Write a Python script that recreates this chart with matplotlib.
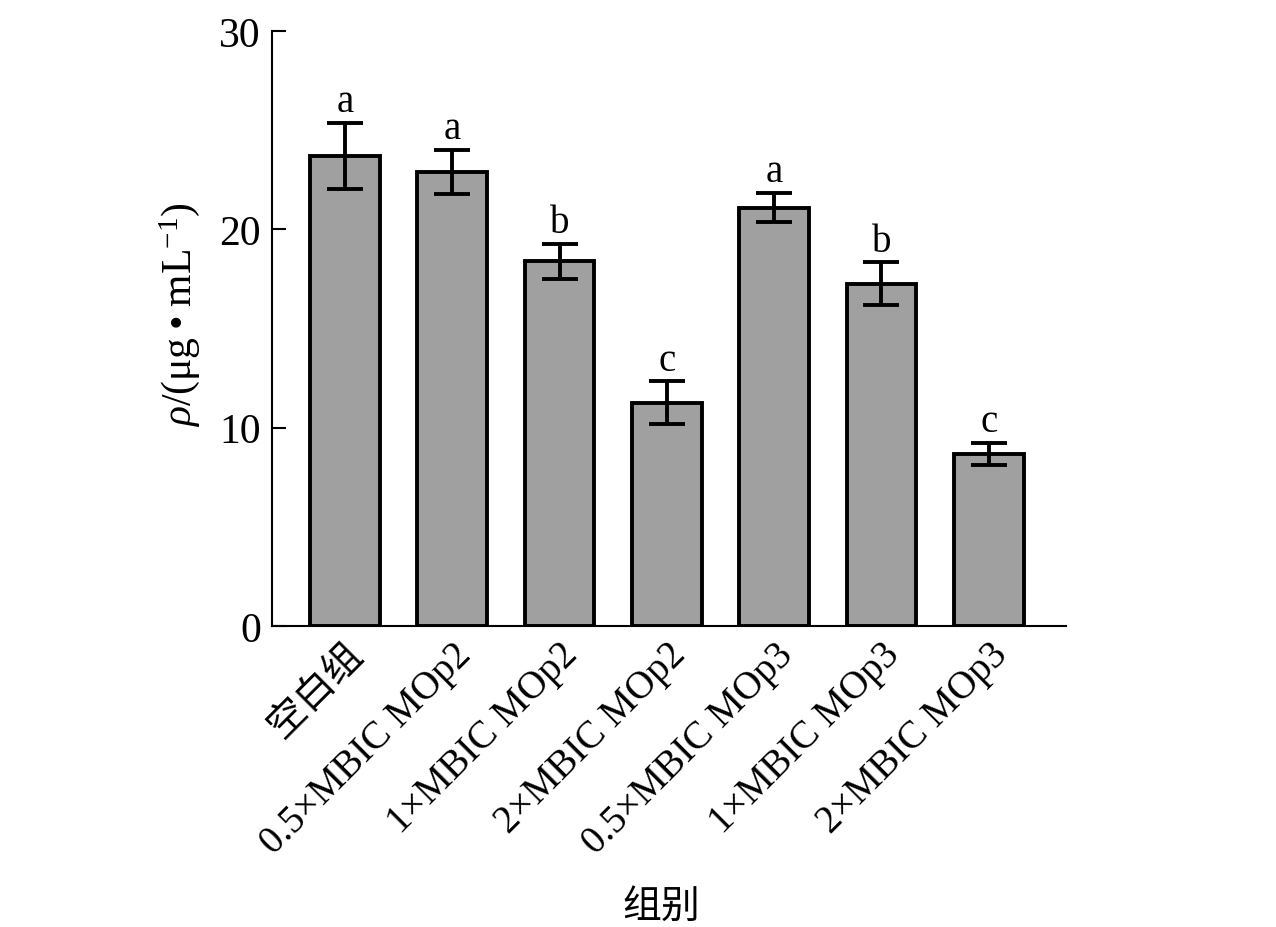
import matplotlib
matplotlib.use("Agg")
import matplotlib.pyplot as plt
import numpy as np

categories = ["空白组", "0.5×MBIC MOp2", "1×MBIC MOp2", "2×MBIC MOp2",
              "0.5×MBIC MOp3", "1×MBIC MOp3", "2×MBIC MOp3"]
means = [23.7, 22.9, 18.4, 11.25, 21.1, 17.25, 8.67]
errors = [1.68, 1.1, 0.88, 1.08, 0.72, 1.08, 0.57]
letters = ["a", "a", "b", "c", "a", "b", "c"]
yticks = [0, 10, 20, 30]

plt.rcParams['font.family'] = ['Liberation Serif', 'Noto Sans CJK SC']
plt.rcParams['mathtext.fontset'] = 'custom'
plt.rcParams['mathtext.rm'] = 'Liberation Serif'
plt.rcParams['mathtext.it'] = 'Liberation Serif:italic'

fig = plt.figure(figsize=(12.76, 9.28), dpi=100)
ax = fig.add_axes([272/1276, 1-627/928, (1066-272)/1276, (627-32)/928])

x = np.arange(len(categories))
ax.bar(x, means, width=0.65, color='#a0a0a0', edgecolor='black', linewidth=2.8, zorder=2)
ax.errorbar(x, means, yerr=errors, fmt='none', ecolor='black', elinewidth=2.8,
            capsize=13, capthick=2.8, zorder=3)
for xi, m, e, l in zip(x, means, errors, letters):
    ax.annotate(l, (xi, m + e), xytext=(0, 2), textcoords='offset points',
                ha='center', va='bottom', fontsize=28)

ax.set_xlim(-0.68, 6.72)
ax.set_ylim(0, 30)
ax.set_yticks(yticks)
ax.set_yticklabels([str(t) for t in yticks])
ax.tick_params(axis='y', direction='in', length=10, width=1.5, labelsize=30, pad=8)
ax.tick_params(axis='x', length=0, pad=7)
ax.set_xticks(x)
ax.set_xticklabels(categories, rotation=45, ha='right', rotation_mode='anchor', fontsize=28)
for s in ['top', 'right']:
    ax.spines[s].set_visible(False)
for s in ['left', 'bottom']:
    ax.spines[s].set_linewidth(1.5)

ax.set_ylabel('$\\rho$/(μg\u2009•\u2009mL$^{-1}$)', fontsize=30, labelpad=10)
ax.yaxis.set_label_coords(-0.088, 0.525)
ax.set_xlabel('组别', fontsize=28)
ax.xaxis.set_label_coords(0.49, -0.442)

fig.savefig('out.png', dpi=100)
